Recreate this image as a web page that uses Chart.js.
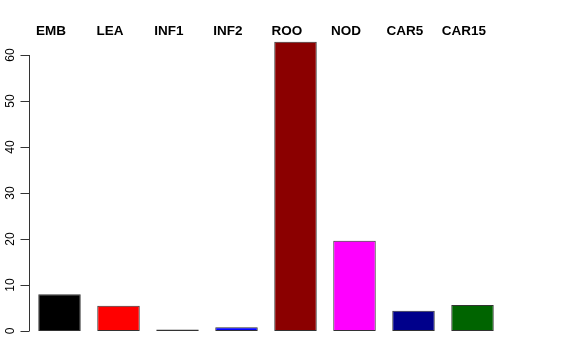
<!DOCTYPE html>
<html>
<head>
<meta charset="utf-8">
<script src="https://cdn.jsdelivr.net/npm/chart.js@4"></script>
<style>
  html, body { margin: 0; padding: 0; background: #fff; }
  #wrap { width: 576px; height: 360px; }
</style>
</head>
<body>
<div id="wrap"><canvas id="barChart" width="576" height="360"></canvas></div>
<script>
const categories = ["EMB", "LEA", "INF1", "INF2", "ROO", "NOD", "CAR5", "CAR15"];
const values = [8.0, 5.5, 0.3, 0.8, 62.9, 19.6, 4.4, 5.65];
const barColors = ['#000000', '#ff0000', '#00cd00', '#0000ff', '#8b0000', '#ff00ff', '#00008b', '#006400'];
const yTicks = [0, 10, 20, 30, 40, 50, 60];

// R-style axis and top labels, placed through the chart's own scales
const rStyle = {
    id: 'rStyle',
    afterDraw(chart) {
        const c = chart.ctx;
        const xs = chart.scales.x;
        const ys = chart.scales.y;
        const axisX = xs.left - 0.5;
        c.save();
        c.strokeStyle = '#333';
        c.lineWidth = 1;
        c.beginPath();
        c.moveTo(axisX, ys.getPixelForValue(yTicks[0]));
        c.lineTo(axisX, ys.getPixelForValue(yTicks[yTicks.length - 1]));
        yTicks.forEach(v => {
            const y = Math.round(ys.getPixelForValue(v)) + 0.5;
            c.moveTo(axisX, y);
            c.lineTo(axisX - 9, y);
        });
        c.stroke();

        c.fillStyle = '#000';
        c.font = '12px "Liberation Sans", Arial, sans-serif';
        c.textAlign = 'center';
        c.textBaseline = 'middle';
        yTicks.forEach(v => {
            const y = ys.getPixelForValue(v);
            c.save();
            c.translate(11, y);
            c.rotate(-Math.PI / 2);
            c.fillText(String(v), 0, 0);
            c.restore();
        });

        c.font = 'bold 13.5px "Liberation Sans", Arial, sans-serif';
        c.textBaseline = 'alphabetic';
        categories.forEach((lab, i) => {
            c.fillText(lab, xs.getPixelForValue(i) - 8.5, 35);
        });
        c.restore();
    }
};

new Chart(document.getElementById('barChart').getContext('2d'), {
    type: 'bar',
    data: {
        labels: categories,
        datasets: [{
            data: values,
            backgroundColor: barColors,
            borderColor: '#333',
            borderWidth: 1,
            borderSkipped: false,
            categoryPercentage: 1,
            barPercentage: 0.72
        }]
    },
    options: {
        responsive: false,
        animation: false,
        layout: { padding: { top: 32, bottom: 29, left: 30, right: 74 } },
        scales: {
            x: { display: false, grid: { display: false } },
            y: { display: false, min: 0, max: 65, grid: { display: false } }
        },
        plugins: {
            legend: { display: false },
            tooltip: { enabled: false }
        }
    },
    plugins: [rStyle]
});
</script>
</body>
</html>
